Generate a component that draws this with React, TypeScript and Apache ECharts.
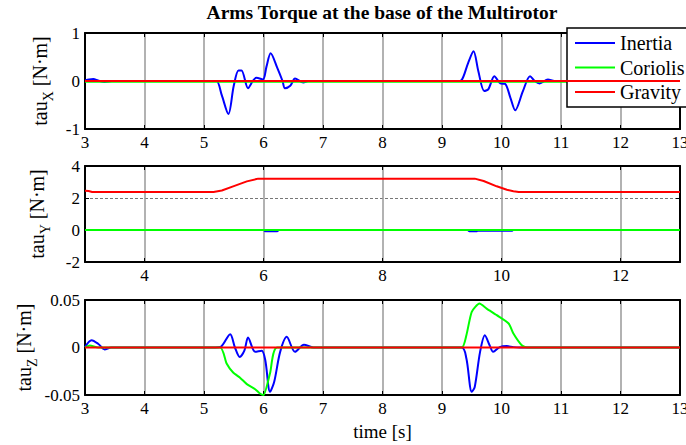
import React, { useEffect, useRef } from "react";
import * as echarts from "echarts";

const FONT = "Liberation Serif";
const TITLE = "Arms Torque at the base of the Multirotor";
const SERIES_NAMES = ["Inertia", "Coriolis", "Gravity"];
const SERIES_COLORS = ["#0000ff", "#00ff00", "#ff0000"];

// ---- tau_X ----
const tauXInertiaT = [3, 3.07, 3.14, 3.22, 3.33, 3.45, 5.1, 5.21, 5.3, 5.41, 5.5, 5.58, 5.63, 5.74, 5.82, 5.88, 5.99, 6.05, 6.12, 6.23, 6.32, 6.36, 6.45, 6.53, 6.67, 6.75, 9.25, 9.33, 9.44, 9.53, 9.61, 9.71, 9.78, 9.88, 9.98, 10.06, 10.15, 10.23, 10.36, 10.48, 10.56, 10.64, 10.78, 10.89, 13];
const tauXInertiaV = [0.01, 0.03, 0.04, 0.01, -0.02, 0, 0, 0, -0.3, -0.69, -0.1, 0.22, 0.22, -0.15, 0.0, 0.07, 0.03, 0.3, 0.58, 0.28, 0.0, -0.15, -0.1, 0.05, -0.03, 0, 0, 0.02, 0.38, 0.62, 0.21, -0.21, -0.17, 0.1, -0.05, -0.06, -0.35, -0.61, -0.21, 0.1, 0.0, -0.05, 0.03, 0, 0];
const tauXCoriolisT = [3, 13];
const tauXCoriolisV = [-0.015, -0.015];
const tauXGravityT = [3, 13];
const tauXGravityV = [0, 0];

// ---- tau_Y ----
const tauYInertiaT = [3, 6.0, 6.03, 6.23, 6.26, 9.43, 9.46, 9.58, 9.6, 10.18, 10.2, 13];
const tauYInertiaV = [0, 0, -0.08, -0.08, 0, 0, -0.08, -0.08, -0.04, -0.04, 0, 0];
const tauYCoriolisT = [3, 13];
const tauYCoriolisV = [0, 0];
const tauYGravityT = [3, 3.06, 3.12, 5.16, 5.3, 5.49, 5.72, 5.91, 9.55, 9.7, 9.92, 10.09, 10.2, 10.29, 13];
const tauYGravityV = [2.46, 2.44, 2.38, 2.38, 2.47, 2.73, 3.04, 3.21, 3.21, 3.06, 2.73, 2.52, 2.42, 2.38, 2.38];

// ---- tau_Z ----
const tauZInertiaT = [3, 3.11, 3.22, 3.33, 3.44, 5.19, 5.28, 5.44, 5.52, 5.6, 5.68, 5.74, 5.86, 5.97, 6.03, 6.11, 6.18, 6.28, 6.39, 6.53, 6.68, 6.84, 9.33, 9.41, 9.5, 9.55, 9.64, 9.72, 9.8, 9.86, 9.97, 10.09, 10.2, 10.31, 13];
const tauZInertiaV = [0.0006, 0.0077, 0.004, -0.002, 0, 0, 0.0006, 0.014, 0, -0.0099, -0.003, 0.0105, -0.0046, -0.0035, -0.0134, -0.0467, -0.036, -0.0046, 0.0112, -0.0046, 0.003, 0, 0, -0.0116, -0.0467, -0.0415, -0.0046, 0.013, 0.0024, -0.0046, 0.0004, 0.0015, 0.0004, 0, 0];
const tauZCoriolisT = [3, 3.08, 3.22, 5.27, 5.38, 5.49, 5.61, 5.72, 5.86, 5.94, 6.0, 6.11, 6.23, 9.33, 9.41, 9.5, 9.63, 9.75, 9.92, 10.12, 10.2, 10.34, 10.43, 13];
const tauZCoriolisV = [0, 0.002, 0, 0, -0.0168, -0.0263, -0.032, -0.0386, -0.0439, -0.0484, -0.05, -0.027, 0, 0, 0.013, 0.0375, 0.0463, 0.041, 0.034, 0.0253, 0.0147, 0.0024, 0, 0];
const tauZGravityT = [3, 13];
const tauZGravityV = [0, 0];

// ---- axes ----
const xMin = 3;
const xMax = 13;
const tauYXTicks = [4, 6, 8, 10, 12];
const yRanges = [
  { min: -1, max: 1, interval: 1 },
  { min: -2, max: 4, interval: 2 },
  { min: -0.05, max: 0.05, interval: 0.05 },
];
const yNames = ["X", "Y", "Z"];

const zip = (t: number[], v: number[]) => t.map((x, i) => [x, v[i]]);

const panels = [
  [zip(tauXInertiaT, tauXInertiaV), zip(tauXCoriolisT, tauXCoriolisV), zip(tauXGravityT, tauXGravityV)],
  [zip(tauYInertiaT, tauYInertiaV), zip(tauYCoriolisT, tauYCoriolisV), zip(tauYGravityT, tauYGravityV)],
  [zip(tauZInertiaT, tauZInertiaV), zip(tauZCoriolisT, tauZCoriolisV), zip(tauZGravityT, tauZGravityV)],
];

const gridRects = [
  { left: 85, top: 33, width: 595, height: 96 },
  { left: 85, top: 166, width: 595, height: 96 },
  { left: 85, top: 300, width: 595, height: 95 },
];
const yNameGaps = [30, 33, 46];

export default function App() {
  const ref = useRef<HTMLDivElement>(null);
  useEffect(() => {
    if (!ref.current) return;
    const chart = echarts.init(ref.current, null, { renderer: "svg" });
    const axisLine = { show: true, onZero: false, lineStyle: { color: "#000", width: 2 } };
    const tick = { show: true, inside: true, length: 4, lineStyle: { color: "#000", width: 1 } };
    const labelStyle = { color: "#000", fontFamily: FONT, fontSize: 17 };

    const xAxes: any[] = [];
    const yAxes: any[] = [];
    for (let i = 0; i < 3; i++) {
      const custom = i === 1 ? { customValues: tauYXTicks } : {};
      xAxes.push({
        type: "value",
        gridIndex: i,
        position: "bottom",
        min: xMin,
        max: xMax,
        ...(i === 1 ? {} : { interval: 1 }),
        axisLine,
        axisTick: { ...tick, ...custom },
        axisLabel: { show: true, margin: 5, ...labelStyle, ...custom },
        splitLine: { show: true, lineStyle: { color: "#999", width: 1.5 } },
        name: i === 2 ? "time [s]" : "",
        nameLocation: "middle",
        nameGap: 27,
        nameMoveOverlap: false,
        nameTextStyle: { color: "#000", fontFamily: FONT, fontSize: 19 },
      });
      yAxes.push({
        type: "value",
        gridIndex: i,
        position: "left",
        ...yRanges[i],
        axisLine,
        axisTick: tick,
        axisLabel: { show: true, margin: 5, ...labelStyle },
        splitLine: { show: true, lineStyle: { color: "#777", width: 1, type: [3, 2] } },
        name: `{m|tau}{s|${yNames[i]}}{m| [N·m]}`,
        nameLocation: "middle",
        nameRotate: 90,
        nameGap: yNameGaps[i],
        nameMoveOverlap: false,
        nameTextStyle: {
          color: "#000",
          fontFamily: FONT,
          fontSize: 20,
          rich: {
            m: { fontFamily: FONT, fontSize: 20, color: "#000", lineHeight: 30 },
            s: { fontFamily: FONT, fontSize: 14, color: "#000", lineHeight: 14, verticalAlign: "bottom" },
          },
        },
      });
    }
    for (let i = 0; i < 3; i++) {
      const custom = i === 1 ? { customValues: tauYXTicks } : {};
      xAxes.push({
        type: "value",
        gridIndex: i,
        position: "top",
        min: xMin,
        max: xMax,
        ...(i === 1 ? {} : { interval: 1 }),
        axisLine,
        axisTick: { ...tick, ...custom },
        axisLabel: { show: false, ...custom },
        splitLine: { show: false },
      });
      yAxes.push({
        type: "value",
        gridIndex: i,
        position: "right",
        ...yRanges[i],
        axisLine,
        axisTick: tick,
        axisLabel: { show: false },
        splitLine: { show: false },
      });
    }

    const series: any[] = [];
    panels.forEach((panel, p) => {
      panel.forEach((data, k) => {
        series.push({
          type: "line",
          name: SERIES_NAMES[k],
          xAxisIndex: p,
          yAxisIndex: p,
          data,
          symbol: "none",
          smooth: k === 0 ? 0.3 : k === 1 && p === 2 ? 0.2 : false,
          lineStyle: { color: SERIES_COLORS[k], width: 2 },
          itemStyle: { color: SERIES_COLORS[k] },
          z: 2 + k,
          silent: true,
        });
      });
    });

    chart.setOption({
      animation: false,
      backgroundColor: "#fff",
      title: {
        text: TITLE,
        left: 382,
        top: 2,
        textAlign: "center",
        padding: 0,
        textStyle: { fontFamily: FONT, fontWeight: "bold", fontSize: 19.5, color: "#000" },
      },
      legend: {
        data: SERIES_NAMES.map((n) => ({ name: n, icon: "rect" })),
        orient: "vertical",
        left: 567,
        top: 28,
        itemWidth: 40,
        itemHeight: 2,
        itemGap: 0.5,
        padding: [3, 30, 3, 8],
        backgroundColor: "#fff",
        borderColor: "#000",
        borderWidth: 1.5,
        borderRadius: 0,
        textStyle: { fontFamily: FONT, fontSize: 20, color: "#000", lineHeight: 24 },
      },
      grid: gridRects.map((g) => ({ ...g, containLabel: false, outerBoundsMode: "none" })),
      xAxis: xAxes,
      yAxis: yAxes,
      series,
    });
    return () => chart.dispose();
  }, []);
  return <div ref={ref} style={{ position: "absolute", left: 0, top: 0, width: 686, height: 445 }} />;
}
